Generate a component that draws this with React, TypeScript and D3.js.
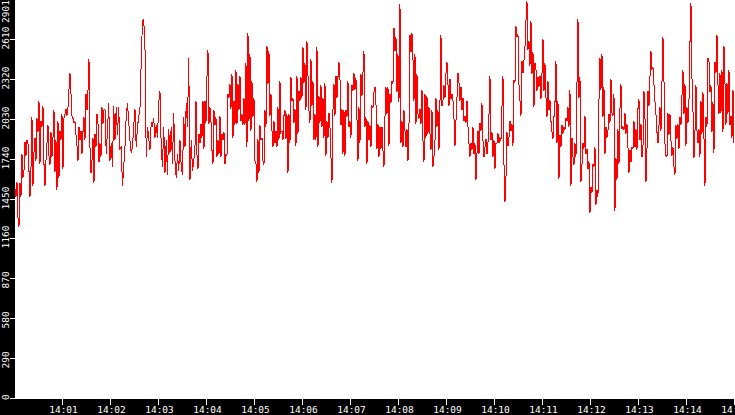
import * as d3 from 'd3';

// samples, one list per 112.5 s stretch (14:00:00 → 14:15:00)
const seg0 = [
  1530, 1470, 1580, 1320, 1250, 1570, 1470, 1780, 1610, 1660,
  1870, 1770, 1880, 1860, 1660, 1470, 1670, 2050, 1550, 1790,
  1900, 1730, 2040, 1940, 2170, 1710, 2020, 1980, 2130, 1710,
  1550, 1730, 1860, 1990, 1770, 1700, 1940, 1760, 1900, 2100,
  1650, 1880, 1520, 2020, 1610, 1950, 1880, 2070, 1670, 2040,
  2070, 2110, 2060, 2120, 2250, 2370, 2220, 2060, 2040, 2010,
  2020, 1920, 1840, 1730, 1980, 1880, 1950, 1780, 1940, 2050,
  1880, 2220, 2100, 2240, 2470, 1830, 1640, 1730, 1900, 1570,
  1930, 1830, 2070, 2010, 1720, 1860, 1760, 2120, 2000, 2100,
];
const seg1 = [
  2110, 1780, 1950, 2150, 1730, 1860, 1690, 2130, 1880, 2120,
  1920, 2120, 1820, 1830, 1550, 1690, 1830, 2060, 2150, 2020,
  1880, 1790, 1830, 1980, 2110, 1830, 1980, 2050, 2110, 2460,
  2750, 2760, 2560, 1760, 1980, 1900, 1810, 2010, 1990, 2040,
  1900, 1990, 1900, 2150, 2240, 1830, 1690, 1980, 1640, 1880,
  1630, 1960, 1790, 1980, 1710, 2080, 1730, 1610, 1780, 1660,
  1880, 1690, 1630, 2050, 1830, 2150, 1980, 2480, 1590, 1880,
  1660, 1730,
];
const seg2 = [
  1830, 2170, 1780, 1670, 1930, 1860, 2000, 1900, 2170, 1820,
  2170, 2010, 2340, 2540, 2000, 2120, 2020, 1810, 1710, 2100,
  1990, 2050, 1760, 1880, 1780, 2060, 1760, 1930, 1880, 1940,
  1710, 1780, 1770, 2220, 2190, 2290, 2110, 2360, 1900, 2170,
  1990, 2390, 2000, 2290, 2100, 2350, 2020, 2070, 1990, 2190,
  1990, 2440, 1830, 2660, 2020, 2510, 1950, 2310, 2050, 2190,
  1730, 1710, 1580, 1890, 1640, 1990, 1880, 1900, 1730, 1700,
  2100, 1980, 2570, 2290, 2530, 2060, 2220, 1950, 1830, 2020,
  1860, 1950, 1830, 2120, 1880, 2310, 1940, 1950, 1880, 2060,
];
const seg3 = [
  2100, 1890, 2070, 1640, 2070, 1860, 2340, 2170, 2190, 2010,
  2110, 1840, 2350, 1930, 2240, 2170, 2340, 2190, 2560, 2300,
  2440, 2100, 2600, 2360, 2100, 2010, 2470, 2130, 2310, 1880,
  2070, 1880, 2560, 1830, 2200, 2010, 2280, 1980, 2190, 1900,
  2300, 1770, 2020, 1900, 2080, 1980, 1760, 1570, 2100, 2290,
  2060, 2350, 2190, 2340, 2450, 2330, 1990, 2110, 1780, 2100,
  1770, 2100, 2050, 2310, 1980, 2020, 1900, 2280, 2240, 2370,
  2250, 2330, 2040, 1730, 2120, 1860, 2360, 2200, 2370, 2530,
  1980, 2050, 1710, 2020, 1880, 1990, 1830, 2130, 2120, 2230,
];
const seg4 = [
  2270, 2150, 1820, 2000, 1760, 1980, 1820, 1980, 1810, 1690,
  2050, 2270, 2070, 2270, 1840, 2220, 2150, 2310, 2290, 2700,
  2530, 2630, 2230, 2510, 2160, 2870, 1860, 2020, 1830, 2100,
  1950, 1830, 1960, 1730, 1980, 2650, 2520, 2660, 2480, 2170,
  2510, 2000, 2360, 2070, 2040, 2110, 2000, 2250, 1880, 1720,
  2220, 1900, 2200, 1930, 2120, 1930, 1810, 2100, 1690, 1760,
  1870, 2190, 1980, 2100, 1810, 2160, 2650, 2130, 2170, 2280,
  2190, 2370, 2450, 2290, 2130, 2330, 2180, 2220, 2170, 2040,
  1840, 2020, 2190, 2370, 2300, 2170, 2270, 2100, 2190, 2020,
];
const seg5 = [
  2060, 2010, 2170, 1980, 1860, 1760, 1860, 1810, 1980, 1780,
  1860, 1590, 1780, 1950, 1780, 2010, 1950, 2150, 1880, 1760,
  1830, 1890, 1780, 1860, 2060, 2350, 1880, 1940, 1760, 1880,
  1670, 1860, 1860, 1930, 1860, 1900, 1880, 2120, 2350, 1710,
  1430, 1610, 1940, 1840, 1900, 2020, 1950, 2000, 1840, 2310,
  2300, 2710, 2630, 2650, 2290, 2170, 2060, 2460, 2370, 2460,
  2560, 2750, 2890, 2540, 2600, 2420, 2750, 2360, 2520, 2120,
  2440, 2400, 2240, 2340, 2270, 2350, 2180, 2360, 2620, 2240,
  2440, 2190, 2050, 2310, 2100, 2170, 2020, 1940, 1890, 2050,
];
const seg6 = [
  2150, 2460, 1860, 2170, 1600, 1920, 1830, 1990, 1930, 1980,
  1960, 2040, 2020, 2120, 1980, 2250, 1550, 1900, 1760, 1700,
  1860, 1760, 2280, 2760, 2190, 2340, 1580, 1700, 1860, 1820,
  2060, 1780, 1820, 1670, 1730, 1350, 1540, 1500, 1710, 1690,
  1830, 1410, 1520, 1470, 2170, 2480, 2250, 2510, 2050, 2270,
  1780, 1980, 1900, 1950, 2070, 2010, 2330, 2080, 2060, 2220,
  1370, 1750, 1590, 1960, 1710, 2110, 2290, 1960, 1980, 1960,
  2080, 1930, 2000, 1830, 1640, 1810, 1720, 1830, 1820, 2020,
  1830, 1960, 1810, 2110, 2180, 1880, 2000, 1760, 1830, 2240,
];
const seg7 = [
  2060, 1580, 1810, 2240, 2130, 2340, 2530, 2400, 2410, 2290,
  2160, 2070, 1940, 1860, 1990, 2120, 1950, 2300, 2630, 2330,
  1860, 1770, 1760, 2080, 1920, 2070, 1880, 1770, 1830, 1690,
  1630, 1990, 1890, 2000, 1820, 2050, 1990, 2200, 2390, 2070,
  2290, 1840, 2120, 2010, 2170, 2590, 2880, 2340, 2100, 1750,
  1940, 2280, 1950, 1860, 1960, 1760, 2170, 1930, 2230, 1900,
  1550, 2050, 1980, 2480, 2460, 2230, 2280, 1940, 2160, 1790,
  2450, 2370, 2650, 2290, 2070, 2370, 2080, 2390, 1940, 2570,
  2300, 1990, 2300, 2070, 2390, 1990, 2060, 1900, 2250, 1860,
];

const segments = [seg0, seg1, seg2, seg3, seg4, seg5, seg6, seg7];
const segSeconds = 112.5;

const yTickLabels = [0, 290, 580, 870, 1160, 1450, 1740, 2030, 2320, 2610, 2901];
const xTickLabels = [
  '14:01', '14:02', '14:03', '14:04', '14:05', '14:06', '14:07', '14:08',
  '14:09', '14:10', '14:11', '14:12', '14:13', '14:14', '14:15',
];

const W = 735;
const H = 415;
const left = 15;
const bottom = 399;
const font = '"DejaVu Sans Mono", monospace';
const fontSize = 9.5;
const charW = fontSize * 0.602;

const t0 = new Date(2000, 0, 1, 14, 0, 0);
const t1 = new Date(2000, 0, 1, 14, 15, 0);

const data = segments.flatMap((seg, k) =>
  seg.map((v, j) => ({
    t: new Date(t0.getTime() + (k * segSeconds + (j * segSeconds) / seg.length) * 1000 + 600),
    v,
  }))
);

export default function App() {
  const x = d3.scaleTime().domain([t0, t1]).range([left - 0.5, W - 0.5]);
  const y = d3.scaleLinear().domain([0, 2901]).range([bottom, 0]);
  const parse = d3.timeParse('%H:%M');

  const line = d3
    .line<{ t: Date; v: number }>()
    .x((d) => x(d.t))
    .y((d) => y(d.v));

  return (
    <svg
      width={W}
      height={H}
      style={{ position: 'absolute', left: 0, top: 0, display: 'block' }}
    >
      <rect width={W} height={H} fill="#000" />
      <rect x={left} y={0} width={W - left} height={bottom} fill="#fff" />

      {/* y axis */}
      {yTickLabels.map((v) => {
        const ty = Math.round(y(v)) - 0.5;
        const len = String(v).length * charW;
        const start = Math.max(Math.min(ty + 10, bottom + 1), len);
        return (
          <g key={v}>
            <line x1={10} x2={left} y1={ty} y2={ty} stroke="#fff" strokeWidth={1} shapeRendering="crispEdges" />
            <text
              transform={`translate(9,${start}) rotate(-90)`}
              fill="#fff"
              fontFamily={font}
              fontSize={fontSize}
            >
              {v}
            </text>
          </g>
        );
      })}

      {/* x axis */}
      {xTickLabels.map((lbl) => {
        const p = parse(lbl)!;
        const tx = x(new Date(2000, 0, 1, p.getHours(), p.getMinutes(), 0));
        return (
          <g key={lbl}>
            <line x1={tx} x2={tx} y1={bottom} y2={bottom + 6} stroke="#fff" strokeWidth={1} shapeRendering="crispEdges" />
            <text x={tx + 1} y={413} textAnchor="middle" fill="#fff" fontFamily={font} fontSize={fontSize}>
              {lbl}
            </text>
          </g>
        );
      })}

      <path
        d={line(data) ?? ''}
        fill="none"
        stroke="#ff0000"
        strokeWidth={1}
        shapeRendering="crispEdges"
      />
    </svg>
  );
}
